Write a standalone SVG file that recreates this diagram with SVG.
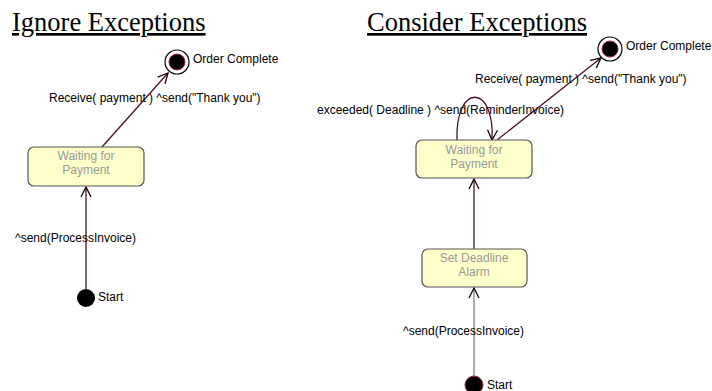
<svg xmlns="http://www.w3.org/2000/svg" width="712" height="391" viewBox="0 0 712 391">
<style>
.title{font-family:"Liberation Serif","Times New Roman",serif;font-size:26.5px;fill:#000;text-decoration:underline}
.lbl{font-family:"Liberation Sans",Arial,sans-serif;font-size:12px;fill:#000}
.st{font-family:"Liberation Sans",Arial,sans-serif;font-size:12px;fill:#999;text-anchor:middle}
.box{fill:#ffffcc;stroke:#555;stroke-width:1.2}
.conn{fill:none;stroke:#4a1030;stroke-width:1.3}
</style>
<defs>
<marker id="arr" viewBox="0 0 12 12" refX="11" refY="6" markerWidth="12" markerHeight="12" markerUnits="userSpaceOnUse" orient="auto">
<path d="M1,1 L11,6 L1,11" fill="none" stroke="#1a0010" stroke-width="1.3"/>
</marker>
</defs>
<rect width="712" height="391" fill="#fff"/>
<text class="title" x="12" y="31">Ignore Exceptions</text>
<text class="title" x="367" y="31">Consider Exceptions</text>

<g id="connectors">
<line class="conn" x1="102" y1="147" x2="168" y2="73" marker-end="url(#arr)"/>
<line class="conn" x1="86" y1="289" x2="86" y2="187" marker-end="url(#arr)"/>
<line class="conn" x1="497" y1="140" x2="601" y2="58" marker-end="url(#arr)"/>
<path class="conn" d="M457,140 C455,83 495,83 492,140" marker-end="url(#arr)"/>
<line class="conn" x1="474" y1="249" x2="474" y2="179" marker-end="url(#arr)"/>
<line x1="474" y1="376" x2="474" y2="288" stroke="#808080" stroke-width="1.3" marker-end="url(#arr)"/>
<text class="lbl" x="49" y="102">Receive( payment ) ^send("Thank you")</text>
<text class="lbl" x="15" y="242">^send(ProcessInvoice)</text>
<text class="lbl" x="475" y="83">Receive( payment ) ^send("Thank you")</text>
<text class="lbl" x="317" y="114">exceeded( Deadline ) ^send(ReminderInvoice)</text>
<text class="lbl" x="403" y="335">^send(ProcessInvoice)</text>
</g>

<g id="left-final">
<circle cx="177" cy="62" r="12" fill="#fff" stroke="#000" stroke-width="1.2"/>
<circle cx="177" cy="62" r="8" fill="#000" stroke="#a0204a" stroke-width="1"/>
<text class="lbl" x="193" y="63">Order Complete</text>
</g>
<g id="left-waiting">
<rect class="box" x="28" y="147" width="116" height="39" rx="6"/>
<text class="st" x="86" y="160">Waiting for</text>
<text class="st" x="86" y="174">Payment</text>
</g>
<g id="left-start">
<circle cx="86" cy="298" r="9" fill="#000"/>
<text class="lbl" x="98" y="301">Start</text>
</g>

<g id="right-final">
<circle cx="610" cy="49" r="12" fill="#fff" stroke="#000" stroke-width="1.2"/>
<circle cx="610" cy="49" r="8" fill="#000" stroke="#a0204a" stroke-width="1"/>
<text class="lbl" x="626" y="50">Order Complete</text>
</g>
<g id="right-waiting">
<rect class="box" x="416" y="140" width="116" height="38" rx="6"/>
<text class="st" x="474" y="154">Waiting for</text>
<text class="st" x="474" y="168">Payment</text>
</g>
<g id="right-deadline">
<rect class="box" x="422" y="249" width="105" height="38" rx="6"/>
<text class="st" x="474" y="262">Set Deadline</text>
<text class="st" x="474" y="276">Alarm</text>
</g>
<g id="right-start">
<circle cx="474" cy="385" r="9" fill="#000" stroke="#a0204a" stroke-width="1"/>
<text class="lbl" x="487" y="389">Start</text>
</g>
</svg>
